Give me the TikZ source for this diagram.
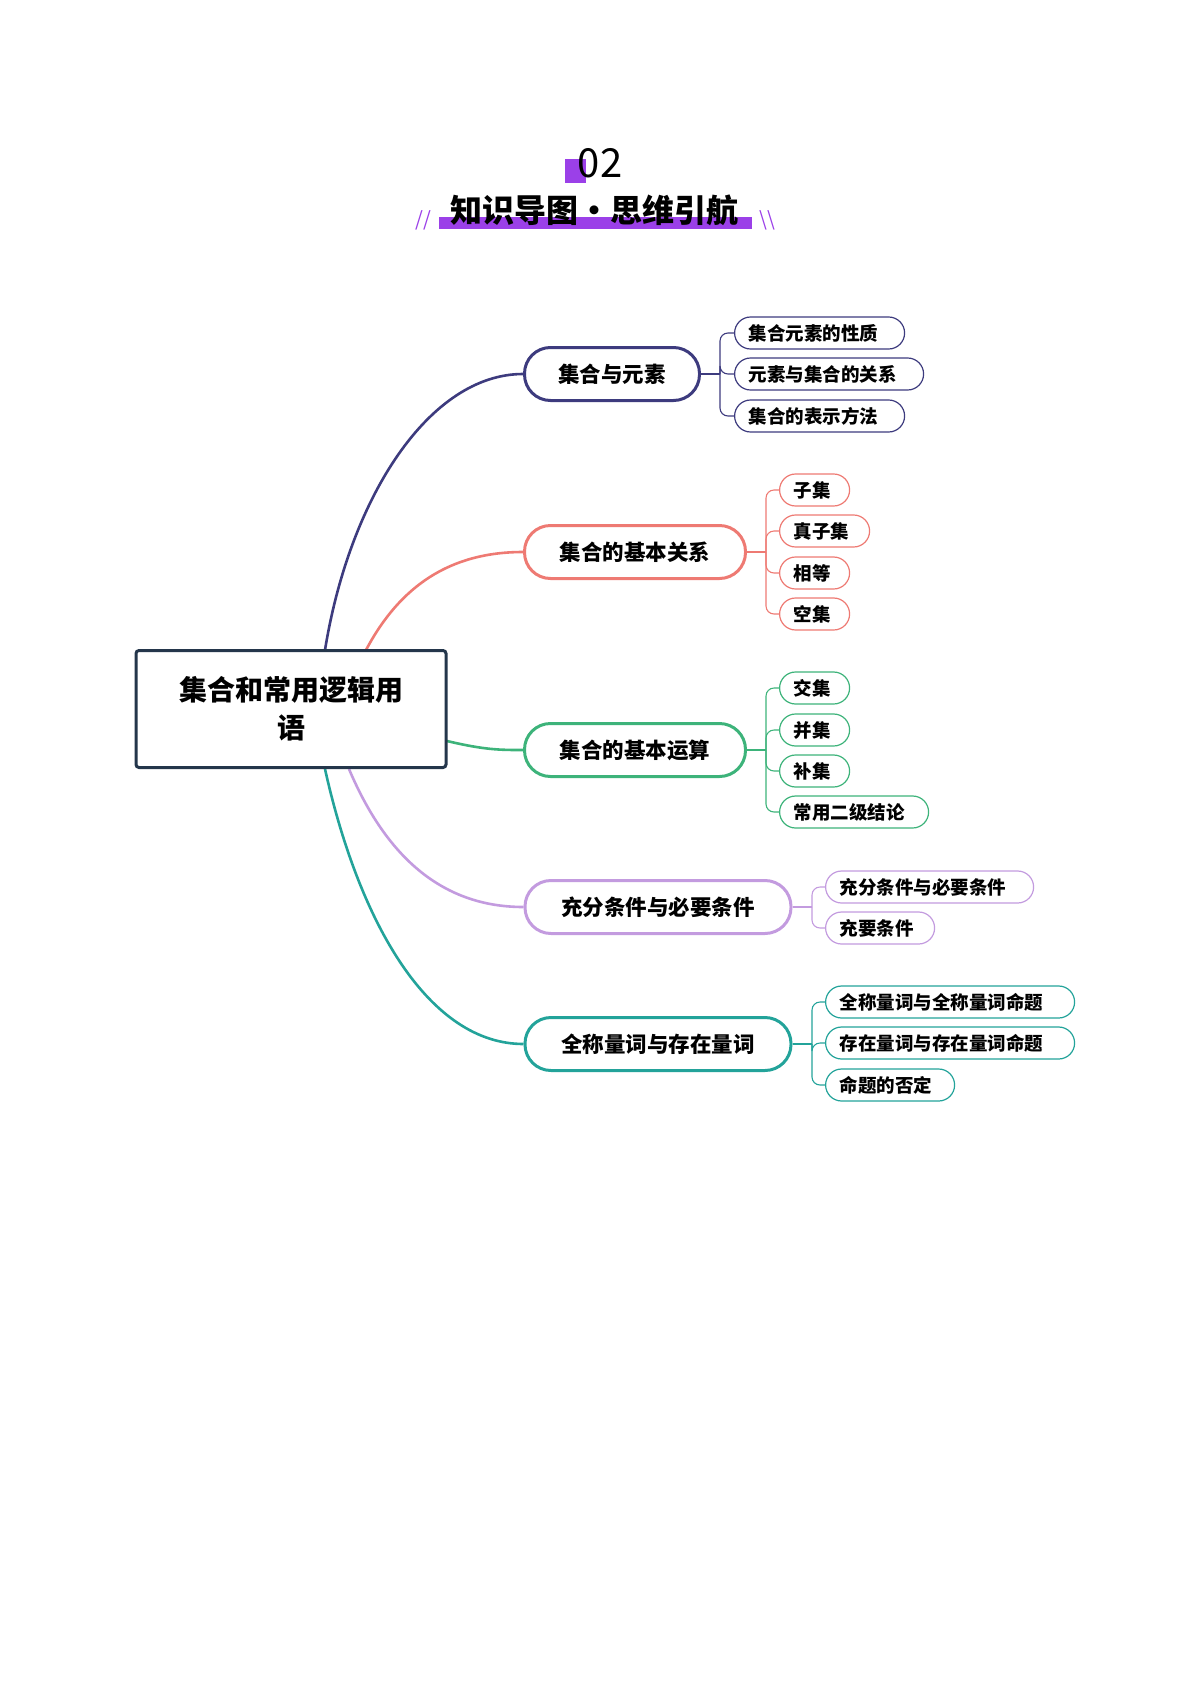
\documentclass[tikz,border=0pt]{standalone}
\usepackage{fontspec}
\setmainfont{Noto Sans CJK SC}
\begin{document}
\begin{tikzpicture}[x=1pt,y=-1pt,
  l1/.style={draw,line width=3pt,rounded corners=26pt,minimum height=53pt,fill=white,font=\bfseries\fontsize{21.5}{24}\selectfont,inner sep=0pt},
  l2/.style={draw,line width=1.2pt,rounded corners=16pt,minimum height=32pt,fill=white,font=\bfseries\fontsize{18.5}{20}\selectfont,anchor=west,inner xsep=14pt,inner ysep=0pt,text width=#1-28pt,align=left},
  br/.style={line width=1.1pt,rounded corners=8pt},
  mainc/.style={line width=2.6pt}]
\definecolor{cb}{HTML}{3D3B7E}
\definecolor{cr}{HTML}{EE7A73}
\definecolor{cg}{HTML}{3DB37A}
\definecolor{cp}{HTML}{C39BDF}
\definecolor{ct}{HTML}{23A39A}
\definecolor{croot}{HTML}{24364B}
\definecolor{tp}{HTML}{9B40E8}
\useasboundingbox (0,0) rectangle (1200,1697);
\begin{scope}[yshift=4pt]
% title
\fill[tp] (565,163) rectangle (586,187);
\node (num) at (600,167) {\fontsize{40}{44}\selectfont 02};
\fill[tp] (439,221) rectangle (752,233);
\node (title) at (594,214) {\bfseries\fontsize{32}{36}\selectfont 知识导图·思维引航};
\node[text=tp] (sl) at (423,224) {\fontsize{20}{20}\selectfont //};
\node[text=tp] (sr) at (767,224) {\fontsize{20}{20}\selectfont \textbackslash\textbackslash};
% level 1
\node[l1,draw=cb,minimum width=175pt] (a) at (612,378) {集合与元素};
\node[l1,draw=cr,minimum width=221pt] (b) at (635,556) {集合的基本关系};
\node[l1,draw=cg,minimum width=221pt] (c) at (635,754) {集合的基本运算};
\node[l1,draw=cp,minimum width=266pt] (d) at (658,911) {充分条件与必要条件};
\node[l1,draw=ct,minimum width=266pt] (e) at (658,1048) {全称量词与存在量词};
% main curves
\draw[mainc,cb] (325,654) .. controls (350,500) and (430,378) .. (a.west);
\draw[mainc,cr] (366,654) .. controls (400,590) and (450,556) .. (b.west);
\draw[mainc,cg] (447,745) .. controls (485,754) and (500,754) .. (c.west);
\draw[mainc,cp] (349,773) .. controls (390,870) and (450,911) .. (d.west);
\draw[mainc,ct] (325,773) .. controls (360,930) and (430,1048) .. (e.west);
% root
\node[draw=croot,line width=3pt,rounded corners=3pt,minimum width=310pt,minimum height=117pt,align=center,font=\bfseries\fontsize{28}{38}\selectfont,fill=white] (root) at (291,713) {集合和常用逻辑用\\语};
% leaves
\node[l2=170pt,draw=cb] (a1) at (734,337) {集合元素的性质};
\node[l2=189pt,draw=cb] (a2) at (734,378) {元素与集合的关系};
\node[l2=170pt,draw=cb] (a3) at (734,420) {集合的表示方法};
\node[l2=70pt,draw=cr] (b1) at (779,494) {子集};
\node[l2=90pt,draw=cr] (b2) at (779,535) {真子集};
\node[l2=70pt,draw=cr] (b3) at (779,577) {相等};
\node[l2=70pt,draw=cr] (b4) at (779,618) {空集};
\node[l2=70pt,draw=cg] (c1) at (779,692) {交集};
\node[l2=70pt,draw=cg] (c2) at (779,734) {并集};
\node[l2=70pt,draw=cg] (c3) at (779,775) {补集};
\node[l2=149pt,draw=cg] (c4) at (779,816) {常用二级结论};
\node[l2=208pt,draw=cp] (d1) at (825,891) {充分条件与必要条件};
\node[l2=109pt,draw=cp] (d2) at (825,932) {充要条件};
\node[l2=249pt,draw=ct] (e1) at (825,1006) {全称量词与全称量词命题};
\node[l2=249pt,draw=ct] (e2) at (825,1047) {存在量词与存在量词命题};
\node[l2=129pt,draw=ct] (e3) at (825,1089) {命题的否定};
% brackets
\coordinate (ka) at (720,378); \coordinate (kb) at (766,556);
\coordinate (kc) at (766,754); \coordinate (kd) at (812,911);
\coordinate (ke) at (812,1048);
\draw[br,cb] (a.east) -- (ka);
\foreach \n in {a1,a2,a3} \draw[br,cb] (ka) |- (\n.west);
\draw[br,cr] (b.east) -- (kb);
\foreach \n in {b1,b2,b3,b4} \draw[br,cr] (kb) |- (\n.west);
\draw[br,cg] (c.east) -- (kc);
\foreach \n in {c1,c2,c3,c4} \draw[br,cg] (kc) |- (\n.west);
\draw[br,cp] (d.east) -- (kd);
\foreach \n in {d1,d2} \draw[br,cp] (kd) |- (\n.west);
\draw[br,ct] (e.east) -- (ke);
\foreach \n in {e1,e2,e3} \draw[br,ct] (ke) |- (\n.west);
\end{scope}
\end{tikzpicture}
\end{document}
